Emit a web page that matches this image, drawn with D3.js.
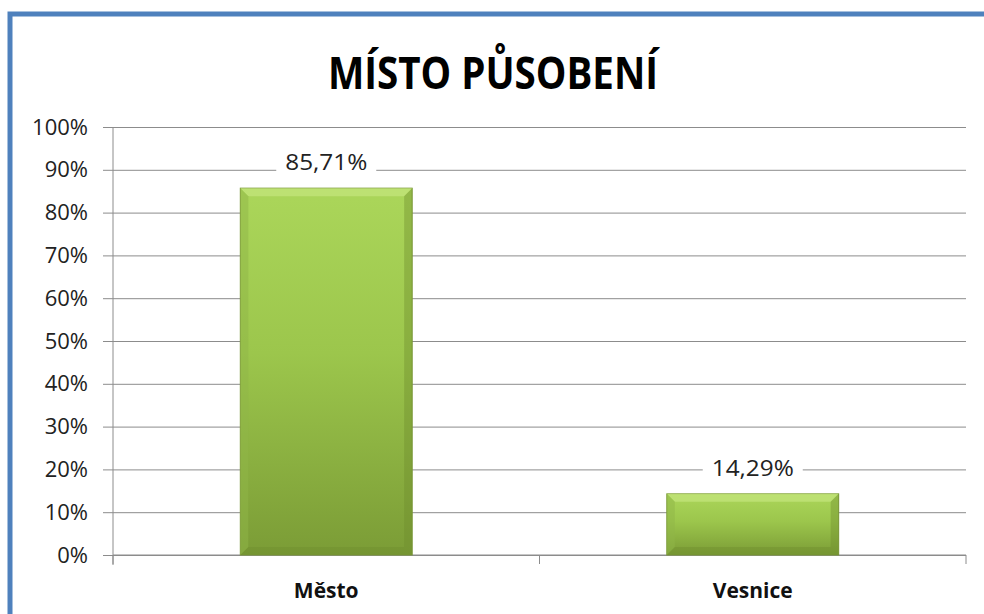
<!DOCTYPE html>
<html>
<head>
<meta charset="utf-8">
<script src="https://cdn.jsdelivr.net/npm/d3@7"></script>
<style>
  body { margin: 0; background: #fff; }
  text { font-family: "Open Sans", "DejaVu Sans", sans-serif; }
</style>
</head>
<body>
<svg id="chart" width="984" height="614"></svg>
<script>
const categories = ["Město", "Vesnice"];
const values = [0.8571, 0.1429];
const valueLabels = ["85,71%", "14,29%"];
const yTicks = [0, 0.1, 0.2, 0.3, 0.4, 0.5, 0.6, 0.7, 0.8, 0.9, 1];

const svg = d3.select("#chart");
const margin = { left: 113, right: 18, top: 127, bottom: 59 };
const width = 984, height = 614;

// frame
svg.append("rect").attr("x", 10).attr("y", 14).attr("width", 990).attr("height", 620)
  .attr("fill", "#fff").attr("stroke", "#4f81bd").attr("stroke-width", 5);

const defs = svg.append("defs");
const grad = defs.append("linearGradient").attr("id", "barGrad")
  .attr("x1", 0).attr("y1", 0).attr("x2", 0).attr("y2", 1);
grad.append("stop").attr("offset", "0%").attr("stop-color", "#abd65a");
grad.append("stop").attr("offset", "45%").attr("stop-color", "#9cc64c");
grad.append("stop").attr("offset", "100%").attr("stop-color", "#7b9c36");

const x = d3.scaleBand().domain(categories)
  .range([margin.left, width - margin.right]).paddingInner(0.597).paddingOuter(0.2985);
const y = d3.scaleLinear().domain([0, 1]).range([height - margin.bottom, margin.top]);

// title
svg.append("text").attr("x", 493).attr("y", 89).attr("text-anchor", "middle")
  .attr("font-size", 44).attr("font-weight", "bold").attr("fill", "#000")
  .attr("textLength", 330).attr("lengthAdjust", "spacingAndGlyphs")
  .text("MÍSTO PŮSOBENÍ");

// y axis with gridlines
const yAxis = svg.append("g").attr("transform", `translate(${margin.left},0)`)
  .call(d3.axisLeft(y).tickValues(yTicks).tickFormat(d3.format(".0%"))
    .tickSize(-(width - margin.right - margin.left)).tickSizeOuter(0).tickPadding(25));
yAxis.select(".domain").remove();
yAxis.selectAll(".tick line").attr("stroke", "#8c8c8c").attr("x1", -10);
yAxis.selectAll(".tick text").attr("font-size", 22).attr("fill", "#222")
  .attr("font-family", "Open Sans, sans-serif").attr("dx", 0);
svg.append("line").attr("x1", margin.left).attr("x2", margin.left)
  .attr("y1", margin.top).attr("y2", height - margin.bottom + 10).attr("stroke", "#8c8c8c");

// x axis
const xAxis = svg.append("g").attr("transform", `translate(0,${height - margin.bottom})`);
xAxis.append("line").attr("x1", margin.left).attr("x2", width - margin.right)
  .attr("stroke", "#8c8c8c");
const bounds = [margin.left, (margin.left + width - margin.right) / 2, width - margin.right];
xAxis.selectAll(".sep").data(bounds).join("line").attr("class", "sep")
  .attr("x1", d => d).attr("x2", d => d).attr("y1", 0).attr("y2", 9).attr("stroke", "#8c8c8c");
xAxis.selectAll(".cat").data(categories).join("text").attr("class", "cat")
  .attr("x", d => x(d) + x.bandwidth() / 2).attr("y", 43).attr("text-anchor", "middle")
  .attr("font-size", 21).attr("font-weight", "bold").attr("fill", "#111").text(d => d);

// bars
const bars = svg.selectAll(".bar").data(categories).join("g").attr("class", "bar");
bars.append("rect")
  .attr("x", d => x(d)).attr("width", x.bandwidth())
  .attr("y", (d, i) => y(values[i])).attr("height", (d, i) => y(0) - y(values[i]))
  .attr("fill", "url(#barGrad)").attr("stroke", "#7a9837").attr("stroke-width", 1);
// bevel highlights
bars.append("path").attr("fill", "#c4e57e").attr("opacity", 0.7)
  .attr("d", (d, i) => {
    const x0 = x(d), x1 = x0 + x.bandwidth(), t = y(values[i]), b = 8;
    return `M${x0},${t}L${x1},${t}L${x1 - b},${t + b}L${x0 + b},${t + b}Z`;
  });
bars.append("path").attr("fill", "#6d8c2e").attr("opacity", 0.4)
  .attr("d", (d, i) => {
    const x0 = x(d), x1 = x0 + x.bandwidth(), t = y(values[i]), bt = y(0), b = 8;
    return `M${x1},${t}L${x1},${bt}L${x1 - b},${bt - b}L${x1 - b},${t + b}Z` +
      `M${x0},${bt}L${x1},${bt}L${x1 - b},${bt - b}L${x0 + b},${bt - b}Z`;
  });
bars.append("path").attr("fill", "#8fb548").attr("opacity", 0.5)
  .attr("d", (d, i) => {
    const x0 = x(d), t = y(values[i]), bt = y(0), b = 8;
    return `M${x0},${t}L${x0 + b},${t + b}L${x0 + b},${bt - b}L${x0},${bt}Z`;
  });

// value labels with white background
const labels = svg.selectAll(".vlabel").data(categories).join("g").attr("class", "vlabel");
labels.append("rect")
  .attr("x", d => x(d) + x.bandwidth() / 2 - 50).attr("width", 100)
  .attr("y", (d, i) => y(values[i]) - 42).attr("height", 32).attr("fill", "#fff");
labels.append("text")
  .attr("x", d => x(d) + x.bandwidth() / 2).attr("y", (d, i) => y(values[i]) - 18)
  .attr("text-anchor", "middle").attr("font-size", 22).attr("fill", "#222")
  .attr("textLength", 82).attr("lengthAdjust", "spacingAndGlyphs")
  .text((d, i) => valueLabels[i]);
</script>
</body>
</html>
